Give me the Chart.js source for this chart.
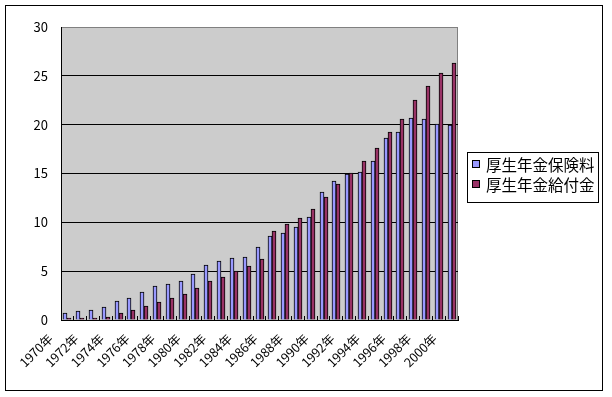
<!DOCTYPE html>
<html>
<head>
<meta charset="utf-8">
<script src="https://cdn.jsdelivr.net/npm/chart.js@4.4.1/dist/chart.umd.min.js"></script>
<style>
  html, body { margin: 0; padding: 0; background: #fff; }
  #wrap { width: 612px; height: 397px; }
</style>
</head>
<body>
<div id="wrap"><canvas id="chart" width="612" height="397"></canvas></div>
<script>
// categories (every other year is labelled on the axis)
const years = [
  '1970年', '1971年', '1972年', '1973年', '1974年', '1975年', '1976年', '1977年',
  '1978年', '1979年', '1980年', '1981年', '1982年', '1983年', '1984年', '1985年',
  '1986年', '1987年', '1988年', '1989年', '1990年', '1991年', '1992年', '1993年',
  '1994年', '1995年', '1996年', '1997年', '1998年', '1999年', '2000年'
];

// 厚生年金保険料
const premiums = [
  0.7, 0.9, 1.0, 1.3, 1.9, 2.3, 2.9, 3.5, 3.7, 4.0, 4.7, 5.6, 6.0, 6.3, 6.5, 7.5,
  8.6, 8.9, 9.5, 10.5, 13.1, 14.2, 14.9, 15.2, 16.3, 18.6, 19.3, 20.7, 20.6, 20.1, 20.0
];

// 厚生年金給付金
const benefits = [
  0.2, 0.2, 0.2, 0.3, 0.7, 1.0, 1.4, 1.8, 2.3, 2.7, 3.3, 4.0, 4.4, 5.0, 5.5, 6.2,
  9.1, 9.8, 10.4, 11.4, 12.6, 13.9, 15.1, 16.3, 17.6, 19.3, 20.6, 22.5, 24.0, 25.3, 26.3
];

const seriesNames = ['厚生年金保険料', '厚生年金給付金'];
const yTicks = [0, 5, 10, 15, 20, 25, 30];

const FONT = '"Noto Sans CJK JP", "DejaVu Sans", sans-serif';
Chart.defaults.font.family = FONT;
Chart.defaults.color = '#000';

// white page, black outer frame, grey plot area
const frame = {
  id: 'frame',
  beforeDraw(chart) {
    const { ctx, chartArea: a } = chart;
    ctx.save();
    ctx.fillStyle = '#fff';
    ctx.fillRect(0, 0, chart.width, chart.height);
    ctx.fillStyle = '#cccccc';
    ctx.fillRect(a.left, a.top, a.right - a.left, a.bottom - a.top);
    ctx.strokeStyle = '#808080';
    ctx.lineWidth = 1;
    ctx.beginPath();
    ctx.moveTo(Math.round(a.right) - 0.5, a.top);
    ctx.lineTo(Math.round(a.right) - 0.5, a.bottom);
    ctx.stroke();
    ctx.strokeStyle = '#000';
    ctx.strokeRect(5.5, 5.5, 597, 385);
    ctx.restore();
  }
};

// snap bars to whole pixels so the 1px outlines stay crisp
const snapBars = {
  id: 'snapBars',
  beforeDatasetsDraw(chart) {
    chart.data.datasets.forEach((ds, i) => {
      chart.getDatasetMeta(i).data.forEach((el) => {
        el.x = Math.round(el.x);
        el.y = Math.round(el.y);
      });
    });
  }
};

// boxed legend on the right
const boxLegend = {
  id: 'boxLegend',
  afterDraw(chart) {
    const ctx = chart.ctx;
    const x = 467, y = 152, w = 131, h = 50;
    ctx.save();
    ctx.fillStyle = '#fff';
    ctx.fillRect(x, y, w, h);
    ctx.strokeStyle = '#000';
    ctx.lineWidth = 1;
    ctx.strokeRect(x + 0.5, y + 0.5, w, h);
    ctx.font = '15.5px ' + FONT;
    ctx.textBaseline = 'middle';
    chart.data.datasets.forEach((ds, i) => {
      const cy = y + 12 + i * 20;
      ctx.fillStyle = ds.backgroundColor;
      ctx.fillRect(x + 5, cy - 4, 8, 8);
      ctx.strokeStyle = '#000';
      ctx.strokeRect(x + 5.5, cy - 3.5, 7, 7);
      ctx.fillStyle = '#000';
      ctx.fillText(ds.label, x + 19, cy + 1);
    });
    ctx.restore();
  }
};

new Chart(document.getElementById('chart'), {
  type: 'bar',
  data: {
    labels: years,
    datasets: [
      {
        label: seriesNames[0],
        data: premiums,
        backgroundColor: '#9999ff',
        borderColor: '#000',
        borderWidth: 1,
        borderSkipped: 'start'
      },
      {
        label: seriesNames[1],
        data: benefits,
        backgroundColor: '#993366',
        borderColor: '#000',
        borderWidth: 1,
        borderSkipped: 'start'
      }
    ]
  },
  options: {
    responsive: false,
    animation: false,
    devicePixelRatio: 1,
    layout: { padding: { top: 27, right: 154, left: 0, bottom: 0 } },
    datasets: { bar: { barThickness: 4 } },
    plugins: {
      legend: { display: false },
      tooltip: { enabled: false }
    },
    scales: {
      x: {
        afterFit: (s) => { s.height = 77; },
        grid: {
          offset: true,
          drawOnChartArea: false,
          drawTicks: true,
          tickLength: -4,
          color: '#000'
        },
        border: { display: true, color: '#000', width: 1 },
        ticks: {
          autoSkip: false,
          minRotation: 45,
          maxRotation: 45,
          padding: 15,
          labelOffset: -17,
          font: { size: 12.5 },
          color: '#000',
          callback: (v, i) => (i % 2 === 0 ? years[i] : '')
        }
      },
      y: {
        min: yTicks[0],
        max: yTicks[yTicks.length - 1],
        afterFit: (s) => { s.width = 61; },
        afterBuildTicks: (s) => { s.ticks = yTicks.map((v) => ({ value: v })); },
        grid: {
          drawTicks: false,
          color: (c) => (c.tick && c.tick.value === 30 ? '#808080' : '#000'),
          lineWidth: 1
        },
        border: { display: true, color: '#000', width: 1 },
        ticks: { padding: 13, font: { size: 13 }, color: '#000' }
      }
    }
  },
  plugins: [frame, snapBars, boxLegend]
});
</script>
</body>
</html>
